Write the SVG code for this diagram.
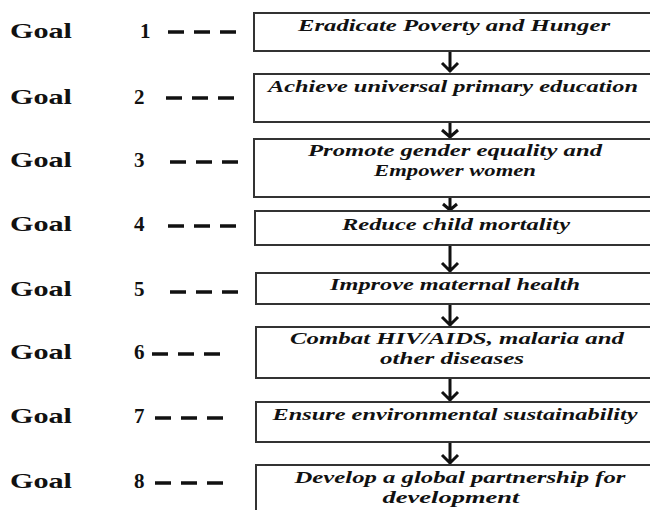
<svg xmlns="http://www.w3.org/2000/svg" width="650" height="510" viewBox="0 0 650 510">
<style>
.goal{font-family:"Liberation Serif","Times New Roman",serif;font-weight:bold;font-size:21px;fill:#111}
.box{fill:#fff;stroke:#333;stroke-width:2}
.bt{font-family:"Liberation Serif","Times New Roman",serif;font-weight:bold;font-style:italic;font-size:16.5px;fill:#111;text-anchor:middle}
.dash{stroke:#111;stroke-width:3.5;stroke-dasharray:16 10}
.arr{stroke:#111;stroke-width:3;fill:none}
</style>
<rect width="650" height="510" fill="#fff"/>
<g id="labels">
<text class="goal" x="10" y="38" textLength="62" lengthAdjust="spacingAndGlyphs">Goal</text>
<text class="goal" x="140" y="38">1</text>
<line class="dash" x1="168" y1="32" x2="240" y2="32"/>
<text class="goal" x="10" y="104" textLength="62" lengthAdjust="spacingAndGlyphs">Goal</text>
<text class="goal" x="134" y="104">2</text>
<line class="dash" x1="166" y1="98" x2="240" y2="98"/>
<text class="goal" x="10" y="167" textLength="62" lengthAdjust="spacingAndGlyphs">Goal</text>
<text class="goal" x="134" y="167">3</text>
<line class="dash" x1="170" y1="162" x2="240" y2="162"/>
<text class="goal" x="10" y="231" textLength="62" lengthAdjust="spacingAndGlyphs">Goal</text>
<text class="goal" x="134" y="231">4</text>
<line class="dash" x1="168" y1="226" x2="240" y2="226"/>
<text class="goal" x="10" y="296" textLength="62" lengthAdjust="spacingAndGlyphs">Goal</text>
<text class="goal" x="134" y="296">5</text>
<line class="dash" x1="170" y1="292" x2="240" y2="292"/>
<text class="goal" x="10" y="359" textLength="62" lengthAdjust="spacingAndGlyphs">Goal</text>
<text class="goal" x="134" y="359">6</text>
<line class="dash" x1="152" y1="354" x2="228" y2="354"/>
<text class="goal" x="10" y="423" textLength="62" lengthAdjust="spacingAndGlyphs">Goal</text>
<text class="goal" x="134" y="423">7</text>
<line class="dash" x1="155" y1="418" x2="228" y2="418"/>
<text class="goal" x="10" y="488" textLength="62" lengthAdjust="spacingAndGlyphs">Goal</text>
<text class="goal" x="134" y="488">8</text>
<line class="dash" x1="155" y1="483" x2="228" y2="483"/>
</g>
<g id="connectors">
<path class="arr" d="M450 51V72M442 63L450 71L458 63"/>
<path class="arr" d="M450 122V138M442 130L450 137L458 130"/>
<path class="arr" d="M450 197V211M443 204L450 210L457 204"/>
<path class="arr" d="M450 245V272M442 263L450 271L458 263"/>
<path class="arr" d="M450 304V326M442 317L450 325L458 317"/>
<path class="arr" d="M450 378V401M442 392L450 400L458 392"/>
<path class="arr" d="M450 442V464M442 455L450 463L458 455"/>
</g>
<g id="node1"><rect class="box" x="254" y="13" width="420" height="38"/><text class="bt" x="454" y="31" textLength="312" lengthAdjust="spacingAndGlyphs">Eradicate Poverty and Hunger</text></g>
<g id="node2"><rect class="box" x="254" y="74" width="420" height="48"/><text class="bt" x="453" y="92" textLength="370" lengthAdjust="spacingAndGlyphs">Achieve universal primary education</text></g>
<g id="node3"><rect class="box" x="254" y="139" width="420" height="58"/><text class="bt" x="455" y="156" textLength="294" lengthAdjust="spacingAndGlyphs">Promote gender equality and</text><text class="bt" x="455" y="176" textLength="162" lengthAdjust="spacingAndGlyphs">Empower women</text></g>
<g id="node4"><rect class="box" x="255" y="211" width="420" height="34"/><text class="bt" x="456" y="230" textLength="228" lengthAdjust="spacingAndGlyphs">Reduce child mortality</text></g>
<g id="node5"><rect class="box" x="256" y="273" width="420" height="31"/><text class="bt" x="455" y="290" textLength="250" lengthAdjust="spacingAndGlyphs">Improve maternal health</text></g>
<g id="node6"><rect class="box" x="256" y="327" width="420" height="51"/><text class="bt" x="457" y="344" textLength="334" lengthAdjust="spacingAndGlyphs">Combat HIV/AIDS, malaria and</text><text class="bt" x="452" y="364" textLength="144" lengthAdjust="spacingAndGlyphs">other diseases</text></g>
<g id="node7"><rect class="box" x="256" y="402" width="420" height="40"/><text class="bt" x="455" y="420" textLength="365" lengthAdjust="spacingAndGlyphs">Ensure environmental sustainability</text></g>
<g id="node8"><rect class="box" x="256" y="465" width="420" height="60"/><text class="bt" x="460" y="483" textLength="331" lengthAdjust="spacingAndGlyphs">Develop a global partnership for</text><text class="bt" x="451" y="503" textLength="137" lengthAdjust="spacingAndGlyphs">development</text></g>
</svg>
